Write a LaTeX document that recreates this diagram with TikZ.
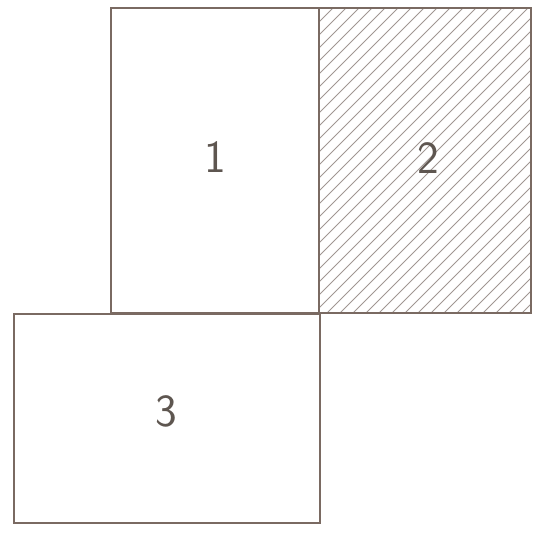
\documentclass[tikz,border=0pt]{standalone}
\usepackage{xcolor}
\usepackage{tikz}
\definecolor{lineColor}{HTML}{7A6A62}
\definecolor{hatchColor}{HTML}{A09692}
\definecolor{labelColor}{HTML}{5E5650}

\begin{document}
\begin{tikzpicture}[x=1pt, y=-1pt]
    \useasboundingbox (0,0) rectangle (533,535);
    % box 2: hatched
    \begin{scope}
        \clip (319,8) rectangle (531,313);
        \foreach \c in {-26,...,16}
            \draw[hatchColor, line width=0.8pt] ({340+13*\c},313) -- ({340+13*\c+320},-7);
    \end{scope}
    % boxes 1, 2 and 3
    \draw[lineColor, line width=1.3pt] (111,8) rectangle (319,313);
    \draw[lineColor, line width=1.3pt] (319,8) rectangle (531,313);
    \draw[lineColor, line width=1.3pt] (14,314) rectangle (320,523);
    % labels
    \node[labelColor, font=\sffamily\fontsize{46}{46}\selectfont] (one) at (215,157) {1};
    \node[labelColor, font=\sffamily\fontsize{46}{46}\selectfont] (two) at (428,158) {2};
    \node[labelColor, font=\sffamily\fontsize{46}{46}\selectfont] (three) at (166,411) {3};
\end{tikzpicture}
\end{document}
